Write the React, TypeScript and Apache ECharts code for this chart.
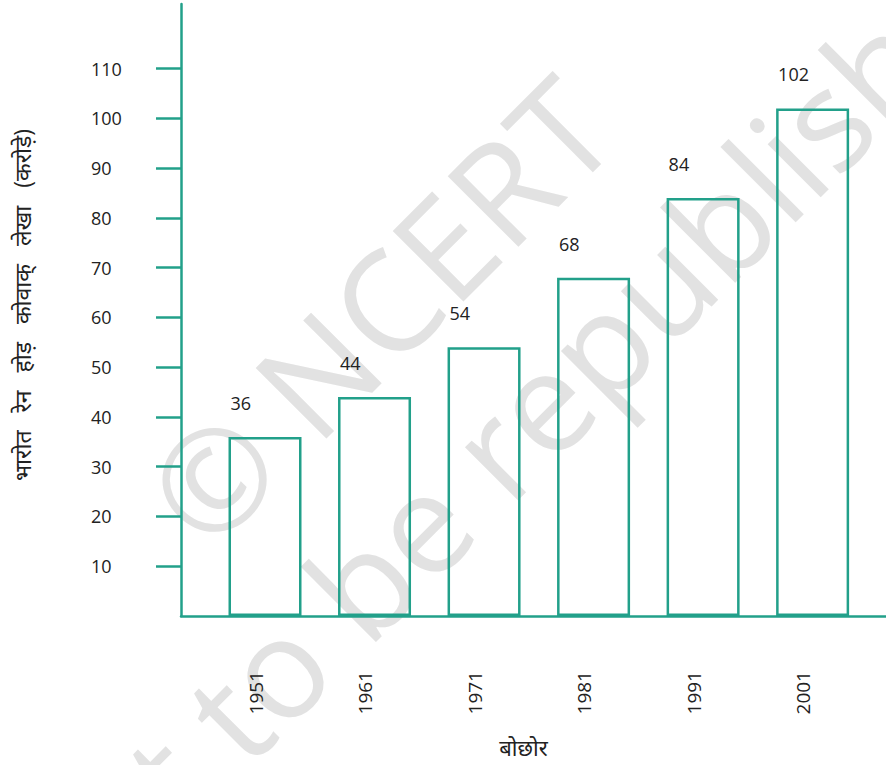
import React, { useEffect, useRef } from "react";
import * as echarts from "echarts";

const years = [1951, 1961, 1971, 1981, 1991, 2001];
const population = [36, 44, 54, 68, 84, 102];
const yTicks = [10, 20, 30, 40, 50, 60, 70, 80, 90, 100, 110];
const yTitleWords = ["भारोत", "रेन", "होड़", "कोवाक्", "लेखा", "(करोड़े)"];
const xTitle = "बोछोर";

const TEAL = "#22a08a";
const FONT = "'Open Sans', 'Noto Sans', sans-serif";

export default function App() {
  const ref = useRef<HTMLDivElement>(null);
  useEffect(() => {
    document.body.style.margin = "0";
    const chart = echarts.init(ref.current!, null, { renderer: "svg" });
    chart.setOption({
      animation: false,
      backgroundColor: "#ffffff",
      grid: { left: 181, right: 0, top: 4, bottom: 149, containLabel: false, outerBoundsMode: "none" },
      xAxis: {
        type: "value",
        min: 1943.33,
        max: 2007.7,
        name: xTitle,
        nameLocation: "middle",
        nameGap: 120,
        nameTextStyle: { fontSize: 22, color: "#222", fontFamily: FONT, padding: [0, 20, 0, 0] },
        axisLine: { show: true, onZero: false, lineStyle: { color: TEAL, width: 2.5 } },
        axisTick: { show: false },
        splitLine: { show: false },
        axisLabel: {
          customValues: years,
          rotate: 90,
          margin: 55,
          fontSize: 19,
          color: "#222",
          fontFamily: FONT,
          verticalAlign: "bottom",
          formatter: (v: number) => String(v),
        },
      },
      yAxis: {
        type: "value",
        min: 0,
        max: 123,
        name: yTitleWords.join("   "),
        nameLocation: "middle",
        nameRotate: 90,
        nameGap: 148,
        nameTextStyle: { fontSize: 23, color: "#222", fontFamily: FONT, padding: [0, 0, 0, 10] },
        axisLine: { show: true, lineStyle: { color: TEAL, width: 2.5 } },
        axisTick: { show: true, customValues: yTicks, length: 25, lineStyle: { color: TEAL, width: 2.5 } },
        splitLine: { show: false },
        axisLabel: {
          customValues: yTicks,
          align: "left",
          margin: 90,
          fontSize: 18,
          color: "#222",
          fontFamily: FONT,
          padding: [0, 0, 8, 0],
        },
      },
      graphic: [
        {
          type: "text",
          x: 378,
          y: 310,
          rotation: Math.PI / 4,
          z: -10,
          style: {
            text: "© NCERT",
            fill: "#e2e2e2",
            font: "140px 'Open Sans', sans-serif",
            textAlign: "center",
            textVerticalAlign: "middle",
          },
        },
        {
          type: "text",
          x: 525,
          y: 416,
          rotation: Math.PI / 4,
          z: -10,
          style: {
            text: "not to be republished",
            fill: "#e2e2e2",
            font: "140px 'Open Sans', sans-serif",
            textAlign: "center",
            textVerticalAlign: "middle",
          },
        },
      ],
      series: [
        {
          type: "bar",
          data: years.map((y, i) => [y, population[i]]),
          barWidth: 73,
          itemStyle: { color: "rgba(255,255,255,0)", borderColor: TEAL, borderWidth: 2.5 },
          label: {
            show: true,
            position: [2, -34],
            align: "left",
            verticalAlign: "middle",
            fontSize: 18,
            color: "#222",
            fontFamily: FONT,
            formatter: (p: any) => String(p.value[1]),
          },
        },
      ],
    });
    return () => chart.dispose();
  }, []);
  return <div ref={ref} style={{ width: 886, height: 765 }} />;
}
